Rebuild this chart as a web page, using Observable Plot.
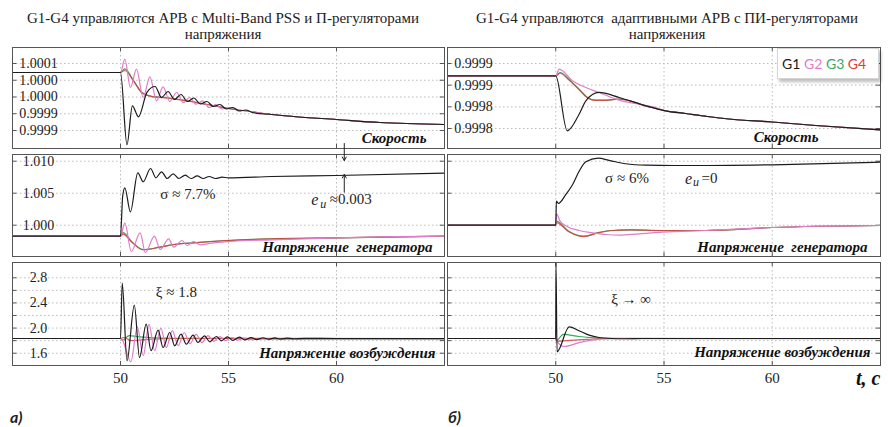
<!DOCTYPE html>
<html><head><meta charset="utf-8">
<script src="https://cdn.jsdelivr.net/npm/d3@7"></script>
<script src="https://cdn.jsdelivr.net/npm/@observablehq/plot@0.6"></script>
<style>
body{margin:0;background:#fff;}
#wrap{position:relative;width:888px;height:427px;overflow:hidden;font-family:"Liberation Serif","Times New Roman",serif;color:#222;}
.ttl{position:absolute;width:446px;text-align:center;font-family:"Liberation Serif","Times New Roman",serif;font-size:15px;line-height:15px;white-space:nowrap;}
.lab{position:absolute;font-family:Lato,sans-serif;font-weight:bold;font-style:italic;font-size:16px;line-height:16px;}
</style></head><body><div id="wrap"></div>
<script>
const xTicks = [50, 55, 60];
const xTickLabels = ["50", "55", "60"];
const speedTicksA = [1.00006, 1.00002, 0.99998, 0.99994, 0.99990];
const speedLabelsA = ["1.0001", "1.0000", "1.0000", "0.9999", "0.9999"];
const speedTicksB = [0.99992, 0.99988, 0.99984, 0.99980];
const speedLabelsB = ["0.9999", "0.9999", "0.9998", "0.9998"];
const voltTicks = [1.010, 1.005, 1.000];
const voltLabels = ["1.010", "1.005", "1.000"];
const fieldGrid = [2.8, 2.6, 2.4, 2.2, 2.0, 1.8, 1.6];
const fieldTicks = [2.8, 2.4, 2.0, 1.6];
const fieldLabels = ["2.8", "2.4", "2.0", "1.6"];
const legendNames = ["G1", "G2", "G3", "G4"];

// ---- a) speed
const speedA_G1 = [[45,1.0000385],[50,1.0000385],[50.3,0.9998659],[50.55,0.999959],[50.83,0.9999327],[51.23,0.9999915],[51.6,1.0000051],[51.9,0.9999788],[52.2,0.9999931],[52.5,0.999974],[52.8,0.999986],[53.1,0.9999693],[53.4,0.9999776],[53.7,0.9999633],[54.0,0.9999693],[54.3,0.9999573],[54.6,0.9999621],[54.9,0.9999513],[55.2,0.9999549],[55.5,0.9999466],[55.8,0.999949],[56.1,0.999943],[57,0.9999382],[58,0.9999334],[60,0.9999263],[62,0.9999191],[65,0.9999143]];
const speedA_G2 = [[45,1.0000385],[50,1.0000385],[50.2,1.0000703],[50.46,1.0000027],[50.74,1.0000464],[51.05,0.9999788],[51.36,1.0000282],[51.67,0.9999709],[51.97,1.0000044],[52.28,0.9999693],[52.6,0.9999907],[52.9,0.9999669],[53.2,0.9999788],[53.5,0.9999628],[53.8,0.9999709],[54.1,0.9999549],[54.4,0.9999621],[54.7,0.9999513],[55.0,0.9999549],[55.5,0.999949],[56,0.9999454],[57,0.9999382],[58,0.9999334],[60,0.9999263],[62,0.9999191],[65,0.9999143]];
const speedA_G3 = [[45,1.0000385],[50,1.0000385],[50.2,1.000047],[50.6,1.0000194],[51.0,0.9999907],[51.5,0.9999812],[52,0.9999788],[53,0.9999716],[54,0.9999621],[55,0.9999525],[56,0.9999454],[57,0.9999382],[58,0.9999334],[60,0.9999263],[62,0.9999191],[65,0.9999143]];
const speedA_G4 = [[45,1.0000385],[50,1.0000385],[50.2,1.0000433],[50.6,1.0000185],[51.0,0.9999895],[51.5,0.9999805],[52,0.9999785],[53,0.9999714],[54,0.9999621],[55,0.9999525],[56,0.9999454],[57,0.9999382],[58,0.9999334],[60,0.9999263],[62,0.9999191],[65,0.9999143]];
// ---- b) speed
const speedB_G1 = [[45,0.9998973],[50,0.9998973],[50.53,0.9997958],[51.08,0.9998264],[51.39,0.9998511],[52.0,0.9998665],[52.93,0.9998572],[54.16,0.9998419],[55.08,0.9998327],[56,0.9998277],[57,0.9998222],[58,0.9998175],[60,0.999812],[62,0.9998055],[65,0.9997976]];
const speedB_G2 = [[45,0.9998973],[50,0.9998973],[50.16,0.9999095],[50.77,0.9998881],[51.39,0.9998757],[52.0,0.9998665],[52.93,0.9998523],[53.85,0.9998449],[54.5,0.99984],[55.08,0.9998327],[56,0.9998277],[57,0.9998222],[58,0.9998175],[60,0.999812],[62,0.9998055],[65,0.9997976]];
const speedB_G3 = [[45,0.9998973],[50,0.9998973],[50.2,0.9999034],[50.6,0.999891],[51.08,0.9998726],[51.47,0.9998572],[51.85,0.9998523],[52.3,0.9998523],[52.93,0.9998545],[54.16,0.9998419],[55.08,0.9998327],[56,0.9998277],[57,0.9998222],[58,0.9998175],[60,0.999812],[62,0.9998055],[65,0.9997976]];
const speedB_G4 = [[45,0.9998973],[50,0.9998973],[50.2,0.999902],[50.6,0.99989],[51.08,0.9998715],[51.47,0.9998565],[51.85,0.999852],[52.3,0.999852],[52.93,0.9998543],[54.16,0.9998419],[55.08,0.9998327],[56,0.9998277],[57,0.9998222],[58,0.9998175],[60,0.999812],[62,0.9998055],[65,0.9997976]];
// ---- a) generator voltage
const voltA_G1 = [[45,0.998281],[50,0.998281],[50.1,1.0045],[50.2,1.005844],[50.46,1.002094],[50.8,1.008188],[51.05,1.006781],[51.39,1.00886],[51.64,1.007406],[51.9,1.008344],[52.16,1.007297],[52.44,1.008031],[52.7,1.007297],[53.0,1.007813],[53.27,1.007297],[53.55,1.007719],[53.83,1.007297],[54.1,1.007609],[54.4,1.007297],[54.7,1.0075],[55,1.007406],[57,1.007609],[60,1.007766],[65,1.008125]];
const voltA_G2 = [[45,0.998281],[50,0.998281],[50.2,1.000375],[50.5,0.995891],[50.91,0.998813],[51.15,0.995734],[51.57,0.998281],[51.84,0.996203],[52.23,0.997875],[52.46,0.996563],[52.85,0.997609],[53.08,0.996828],[53.39,0.997453],[53.7,0.996938],[54.2,0.9972],[55,0.997453],[57,0.99772],[60,0.998031],[65,0.998281]];
const voltA_G3 = [[45,0.998281],[50,0.998281],[50.12,0.99885],[50.5,0.9975],[51.05,0.996203],[51.8,0.996563],[52.5,0.997],[53.36,0.99725],[54.9,0.997609],[57,0.997875],[60,0.998031],[65,0.998281]];
const voltA_G4 = [[45,0.998281],[50,0.998281],[50.12,0.9986],[50.5,0.99742],[51.05,0.99615],[51.8,0.99653],[52.5,0.99698],[53.36,0.99724],[54.9,0.9976],[57,0.997875],[60,0.998031],[65,0.998281]];
// ---- b) generator voltage
const voltB_G1 = [[45,1.0],[50,1.0],[50.03,1.00375],[50.12,1.0034],[50.47,1.0048],[50.78,1.00636],[51.08,1.00844],[51.39,1.00991],[51.95,1.01047],[52.5,1.0101],[53.23,1.0096],[54.16,1.009375],[55.5,1.009328],[57,1.009328],[60,1.009438],[65,1.009844]];
const voltB_G2 = [[45,1.0],[50,1.0],[50.04,1.001781],[50.2,1.000625],[50.5,0.999844],[51.08,0.999172],[51.7,0.998813],[52.31,0.998547],[52.93,0.998438],[53.85,0.998656],[54.93,0.998906],[56.93,0.999172],[60,0.999641],[65,0.999953]];
const voltB_G3 = [[45,1.0],[50,1.0],[50.03,1.000625],[50.6,0.99905],[51.3,0.998281],[51.92,0.998813],[52.53,0.999172],[53.46,0.999281],[54.9,0.999172],[56.93,0.999172],[60,0.999641],[65,0.999953]];
const voltB_G4 = [[45,1.0],[50,1.0],[50.03,1.0004],[50.6,0.99898],[51.3,0.99822],[51.92,0.99876],[52.53,0.99913],[53.46,0.99926],[54.9,0.99916],[56.93,0.99917],[60,0.99964],[65,0.99995]];
// ---- a) field voltage
const fieldA_G1 = [[45,1.834],[50,1.834],[50.08,2.714],[50.3,1.479],[50.64,2.364],[50.88,1.532],[51.19,2.062],[51.41,1.639],[51.74,1.966],[51.97,1.691],[52.28,1.93],[52.51,1.718],[52.8,1.903],[53.05,1.744],[53.36,1.887],[53.58,1.771],[53.89,1.877],[54.13,1.782],[54.44,1.866],[54.67,1.798],[54.95,1.86],[55.2,1.806],[55.5,1.855],[55.75,1.812],[56.05,1.85],[56.3,1.818],[56.6,1.846],[56.85,1.822],[57.15,1.843],[57.4,1.826],[57.7,1.84],[58,1.83],[58.5,1.836],[60,1.834],[65,1.834]];
const fieldA_G2 = [[45,1.834],[50,1.834],[50.1,1.80],[50.48,1.464],[50.78,2.02],[51.05,1.56],[51.32,2.06],[51.58,1.64],[51.87,2.0],[52.12,1.69],[52.4,1.96],[52.67,1.72],[52.95,1.93],[53.22,1.75],[53.5,1.9],[53.77,1.77],[54.05,1.88],[54.32,1.79],[54.6,1.865],[54.87,1.80],[55.15,1.85],[55.42,1.81],[55.7,1.84],[56,1.815],[56.5,1.825],[57.5,1.82],[65,1.82]];
const fieldA_G3 = [[45,1.834],[50,1.834],[50.1,1.81],[50.4,1.88],[50.9,1.86],[51.5,1.845],[52.5,1.838],[65,1.834]];
const fieldA_G4 = [[45,1.834],[50,1.834],[50.15,1.85],[50.5,1.80],[51.2,1.82],[52,1.83],[53,1.834],[65,1.834]];
// ---- b) field voltage
const fieldB_G1 = [[45,1.834],[50,1.834],[50.01,3.04],[50.06,1.623],[50.62,2.02],[51.08,1.957],[51.54,1.887],[52.0,1.85],[52.6,1.834],[53.2,1.83],[54,1.834],[65,1.834]];
const fieldB_G2 = [[45,1.834],[50,1.834],[50.01,2.02],[50.04,1.80],[50.38,1.707],[51.08,1.77],[51.7,1.807],[52.5,1.83],[65,1.83]];
const fieldB_G3 = [[45,1.834],[50,1.834],[50.03,1.80],[50.35,1.90],[51.08,1.866],[51.8,1.845],[52.5,1.836],[65,1.834]];
const fieldB_G4 = [[45,1.834],[50,1.834],[50.05,1.79],[50.5,1.80],[51.2,1.815],[52,1.83],[53,1.834],[65,1.834]];

const SERIF = "Liberation Serif, Times New Roman, serif";
const C = {G1: "#1c1c1c", G2: "#e07cc8", G3: "#35a862", G4: "#d8403c"};
const wrap = document.getElementById("wrap");

function panel(o) {
  const [y0, y1] = o.yDomain;
  const span = y1 - y0;
  const marks = [
    Plot.ruleX(xTicks, {stroke: "#bcbcbc", strokeDasharray: "1.5,2.5"}),
    Plot.ruleY(o.grid, {stroke: "#bcbcbc", strokeDasharray: "1.5,2.5"}),
    Plot.ruleY(o.grid, {x1: 45, x2: 45.2, stroke: "#555"}),
    Plot.ruleY(o.grid, {x1: 64.8, x2: 65, stroke: "#555"}),
    Plot.ruleX(xTicks, {y1: y0, y2: y0 + span * 0.04, stroke: "#555"}),
    Plot.ruleX(xTicks, {y1: y1 - span * 0.04, y2: y1, stroke: "#555"})
  ];
  const order = [["G3", 1], ["G4", 0.85], ["G2", 1], ["G1", 1]];
  for (const [g, op] of order) {
    marks.push(Plot.line(o.series[g], {x: d => d[0], y: d => d[1], stroke: C[g], strokeWidth: 1.2, strokeOpacity: op, curve: "monotone-x"}));
  }
  marks.push(Plot.frame({stroke: "#555"}));
  if (o.labels) marks.push(Plot.text(o.ticks, {y: d => d, text: (d, i) => o.labels[i], frameAnchor: "left", dx: 26, textAnchor: "middle", fontSize: 14, fontFamily: SERIF, fill: "#222"}));
  marks.push(Plot.text([o.name], {text: d => d, frameAnchor: "bottom-right", dx: o.ndx, dy: o.ndy, textAnchor: "end", lineAnchor: "middle", fontSize: 15, fontWeight: "bold", fontStyle: "italic", fontFamily: SERIF, fill: "#111"}));
  if (o.bottom) marks.push(Plot.text(xTicks, {x: d => d, text: (d, i) => xTickLabels[i], frameAnchor: "bottom", dy: 13, lineAnchor: "middle", fontSize: 15, fontFamily: SERIF, fill: "#222"}));
  if (o.extra) marks.push(...o.extra);
  const svg = Plot.plot({
    width: o.width, height: o.height, margin: 0,
    x: {domain: [45, 65], axis: null},
    y: {domain: o.yDomain, axis: null},
    style: {background: "transparent", overflow: "visible"},
    marks
  });
  svg.style.position = "absolute";
  svg.style.left = o.left + "px";
  svg.style.top = o.top + "px";
  wrap.appendChild(svg);
}

const note = (t, v, s, extra = {}) => Plot.text([s], {x: () => t, y: () => v, text: d => d, fontSize: 15, fontFamily: SERIF, fill: "#222", ...extra});

const LX = 12, LW = 432, RX = 447, RW = 433;
panel({left: LX, top: 47, width: LW, height: 101, yDomain: [0.999857, 1.0000982], grid: speedTicksA, ticks: speedTicksA, labels: speedLabelsA,
  series: {G1: speedA_G1, G2: speedA_G2, G3: speedA_G3, G4: speedA_G4}, name: "Скорость", ndx: -18, ndy: -10});
panel({left: RX, top: 47, width: RW, height: 101, yDomain: [0.9997631, 0.9999495], grid: speedTicksB, ticks: speedTicksB, labels: speedLabelsB,
  series: {G1: speedB_G1, G2: speedB_G2, G3: speedB_G3, G4: speedB_G4}, name: "Скорость", ndx: -62, ndy: -11});
panel({left: LX, top: 154, width: LW, height: 102, yDomain: [0.995109, 1.011047], grid: voltTicks, ticks: voltTicks, labels: voltLabels,
  series: {G1: voltA_G1, G2: voltA_G2, G3: voltA_G3, G4: voltA_G4}, name: "Напряжение  генератора", ndx: -12, ndy: -9,
  extra: [
    note(53.12, 1.0048, "σ ≈ 7.7%"),
    note(58.99, 1.00402, "e", {fontStyle: "italic", fontSize: 16}),
    note(59.39, 1.00335, "u", {fontStyle: "italic", fontSize: 12}),
    note(59.69, 1.00402, "≈0.003", {textAnchor: "start"}),
    Plot.arrow([{x1: 60.36, y1: 1.012766, x2: 60.36, y2: 1.01011}, {x1: 60.36, y1: 1.005156, x2: 60.36, y2: 1.007922}],
      {x1: "x1", y1: "y1", x2: "x2", y2: "y2", stroke: "#222", strokeWidth: 1, headLength: 6})
  ]});
panel({left: RX, top: 154, width: RW, height: 102, yDomain: [0.995109, 1.011047], grid: voltTicks, ticks: voltTicks, labels: null,
  series: {G1: voltB_G1, G2: voltB_G2, G3: voltB_G3, G4: voltB_G4}, name: "Напряжение  генератора", ndx: -13, ndy: -9,
  extra: [
    note(53.29, 1.0073, "σ ≈ 6%"),
    note(56.13, 1.0073, "e", {fontStyle: "italic", fontSize: 16}),
    note(56.48, 1.00665, "u", {fontStyle: "italic", fontSize: 12}),
    note(56.73, 1.0073, "=0", {textAnchor: "start"})
  ]});
panel({left: LX, top: 262, width: LW, height: 103, yDomain: [1.4047, 3.0434], grid: fieldGrid, ticks: fieldTicks, labels: fieldLabels,
  series: {G1: fieldA_G1, G2: fieldA_G2, G3: fieldA_G3, G4: fieldA_G4}, name: "Напряжение возбуждения", ndx: -9, ndy: -12, bottom: true,
  extra: [note(52.59, 2.577, "ξ ≈ 1.8")]});
panel({left: RX, top: 262, width: RW, height: 103, yDomain: [1.4047, 3.0434], grid: fieldGrid, ticks: fieldTicks, labels: null,
  series: {G1: fieldB_G1, G2: fieldB_G2, G3: fieldB_G3, G4: fieldB_G4}, name: "Напряжение возбуждения", ndx: -10, ndy: -13, bottom: true,
  extra: [note(53.48, 2.46, "ξ → ∞"),
    Plot.text(["t, c"], {text: d => d, frameAnchor: "bottom-right", dy: 13, textAnchor: "end", lineAnchor: "middle", fontSize: 20, fontWeight: "bold", fontStyle: "italic", fontFamily: SERIF, fill: "#111"})]});

function addDiv(html, css, cls) {
  const d = document.createElement("div");
  if (cls) d.className = cls;
  d.style.cssText = css;
  d.innerHTML = html;
  wrap.appendChild(d);
}
addDiv("G1-G4 управляются АРВ с Multi-Band PSS и П-регуляторами", "left:0;top:11px;", "ttl");
addDiv("напряжения", "left:0;top:27px;", "ttl");
addDiv("G1-G4 управляются&nbsp; адаптивными АРВ с ПИ-регуляторами", "left:444px;top:11px;", "ttl");
addDiv("напряжения", "left:444px;top:27px;", "ttl");
addDiv(legendNames.map(g => `<span style="color:${C[g]}">${g}</span>`).join(" "),
  "position:absolute;left:777px;top:48px;width:96px;height:29px;padding-left:4px;background:#fff;border:1px solid #d4d4d4;box-shadow:2px 3px 3px rgba(0,0,0,0.25);font-family:Lato,sans-serif;font-size:14px;line-height:29px;");
addDiv("а)", "left:10px;top:409px;", "lab");
addDiv("б)", "left:448px;top:409px;", "lab");
</script></body></html>
